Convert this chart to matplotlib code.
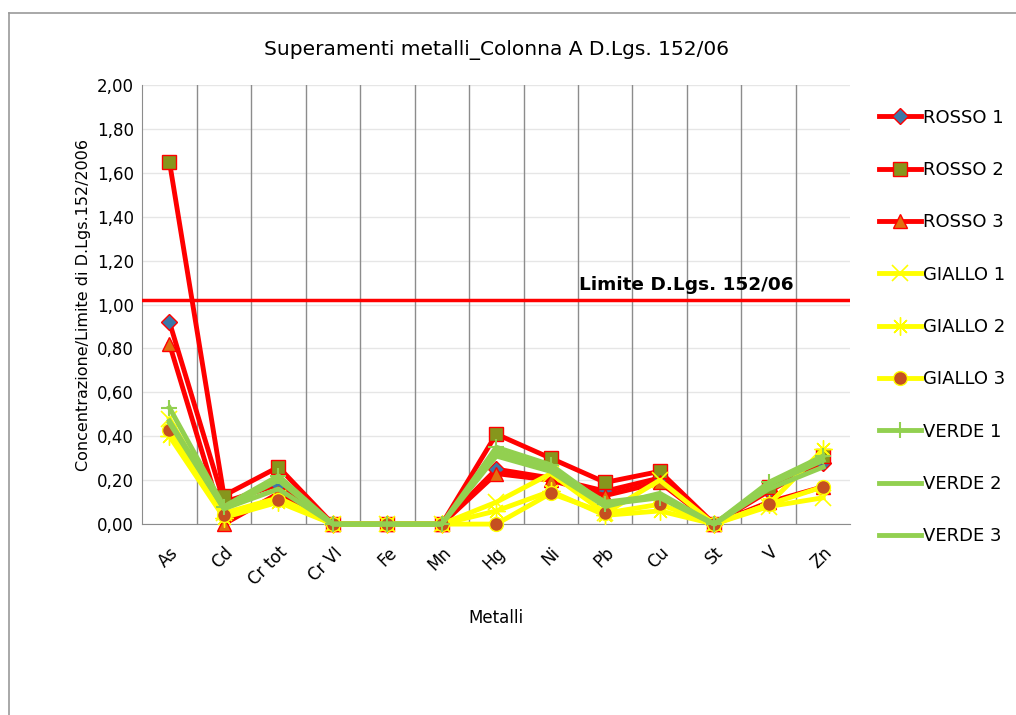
import matplotlib.pyplot as plt
from matplotlib.lines import Line2D
from matplotlib.ticker import FuncFormatter

metalli = ["As", "Cd", "Cr tot", "Cr VI", "Fe", "Mn", "Hg", "Ni", "Pb", "Cu", "St", "V", "Zn"]

rosso_1 = [0.92, 0.10, 0.18, 0, 0, 0, 0.25, 0.21, 0.15, 0.21, 0, 0.15, 0.28]
rosso_2 = [1.65, 0.13, 0.26, 0, 0, 0, 0.41, 0.30, 0.19, 0.24, 0, 0.17, 0.31]
rosso_3 = [0.82, 0.00, 0.14, 0, 0, 0, 0.23, 0.20, 0.13, 0.19, 0, 0.10, 0.17]
giallo_1 = [0.48, 0.05, 0.12, 0, 0, 0, 0.10, 0.23, 0.05, 0.20, 0, 0.08, 0.12]
giallo_2 = [0.40, 0.03, 0.10, 0, 0, 0, 0.06, 0.15, 0.04, 0.06, 0, 0.09, 0.34]
giallo_3 = [0.43, 0.04, 0.11, 0, 0, 0, 0.00, 0.14, 0.05, 0.09, 0, 0.09, 0.17]
verde_1 = [0.53, 0.08, 0.22, 0, 0, 0, 0.35, 0.27, 0.09, 0.12, 0, 0.19, 0.31]
verde_2 = [0.46, 0.07, 0.16, 0, 0, 0, 0.31, 0.24, 0.08, 0.14, 0, 0.16, 0.26]
verde_3 = [0.47, 0.07, 0.20, 0, 0, 0, 0.33, 0.25, 0.10, 0.13, 0, 0.18, 0.29]

limite = 1.02

RED = "#ff0000"
YEL = "#ffff00"
GRN = "#92d050"

fig = plt.figure(figsize=(10.16, 7.15), dpi=100)
ax = fig.add_axes([0.14, 0.267, 0.697, 0.614])

# outer frame, only left and top are visible in the original
fig.add_artist(Line2D([8.5 / 1016, 8.5 / 1016], [0, 1 - 13 / 715], color="#9a9a9a", lw=1.2))
fig.add_artist(Line2D([8.5 / 1016, 1], [1 - 13 / 715, 1 - 13 / 715], color="#9a9a9a", lw=1.2))

x = list(range(len(metalli)))

series = [
    ("ROSSO 1", rosso_1, RED, dict(marker="D", ms=8, mfc="#3b78a8", mec=RED)),
    ("ROSSO 2", rosso_2, RED, dict(marker="s", ms=10, mfc="#86961c", mec=RED)),
    ("ROSSO 3", rosso_3, RED, dict(marker="^", ms=10, mfc="#e07010", mec=RED)),
    ("GIALLO 1", giallo_1, YEL, dict(marker="x", ms=11, mec=YEL, mew=1.2)),
    ("GIALLO 2", giallo_2, YEL, dict(marker=(8, 2, 0), ms=13, mec=YEL, mew=1.0)),
    ("GIALLO 3", giallo_3, YEL, dict(marker="o", ms=10, mfc="#c55020", mec=YEL)),
    ("VERDE 1", verde_1, GRN, dict(marker="+", ms=11, mec=GRN, mew=1.5)),
    ("VERDE 2", verde_2, GRN, dict(marker="None")),
    ("VERDE 3", verde_3, GRN, dict(marker="None")),
]

for name, vals, col, mk in series:
    ax.plot(x, vals, color=col, lw=3.5, label=name, clip_on=False, zorder=3, **mk)

ax.axhline(limite, color=RED, lw=2.5, zorder=4)
ax.text(7.52, limite + 0.028, "Limite D.Lgs. 152/06", fontsize=13.3, fontweight="bold",
        va="bottom", ha="left")

ax.set_xlim(-0.5, len(metalli) - 0.5)
ax.set_ylim(0, 2.0)
ax.set_yticks([i * 0.2 for i in range(11)])
ax.yaxis.set_major_formatter(FuncFormatter(lambda v, p: f"{v:.2f}".replace(".", ",")))
ax.set_xticks(x)
ax.set_xticklabels(metalli, rotation=45, ha="right", rotation_mode="anchor")
ax.tick_params(axis="both", labelsize=12, length=0)
ax.tick_params(axis="x", pad=14)
ax.tick_params(axis="y", pad=6)

# vertical lines between categories
for b in range(1, len(metalli)):
    ax.axvline(b - 0.5, color="#8c8c8c", lw=1, zorder=1)
ax.yaxis.grid(True, color="#e6e6e6", lw=1)
ax.set_axisbelow(True)

for s in ["top", "right"]:
    ax.spines[s].set_visible(False)
ax.spines["left"].set_color("#8c8c8c")
ax.spines["bottom"].set_color("#8c8c8c")

ax.set_xlabel("Metalli", fontsize=12, labelpad=14)
ax.set_ylabel("Concentrazione/Limite di D.Lgs.152/2006", fontsize=11.5)
ax.set_title("Superamenti metalli_Colonna A D.Lgs. 152/06", fontsize=14.5, pad=22)

ax.legend(loc="upper left", bbox_to_anchor=(1.018, 0.983), frameon=False, fontsize=13,
          labelspacing=1.9, handlelength=2.3, handletextpad=0.1)

fig.savefig("out.png", dpi=100)
